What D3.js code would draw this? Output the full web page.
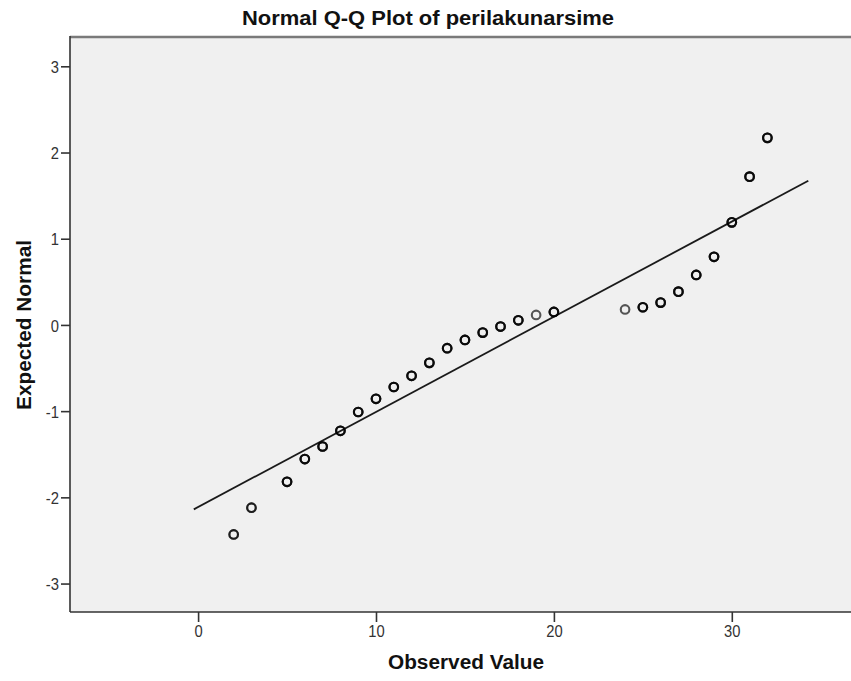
<!DOCTYPE html>
<html>
<head>
<meta charset="utf-8">
<script src="https://cdn.jsdelivr.net/npm/d3@7"></script>
<style>
  body { margin: 0; background: #fff; }
  text { font-family: "Liberation Sans", Arial, sans-serif; }
</style>
</head>
<body>
<svg id="chart" width="851" height="681"></svg>
<script>
// values
const observed = [2, 3, 5, 6, 7, 8, 9, 10, 11, 12, 13, 14, 15, 16, 17, 18, 19, 20, 24, 25, 26, 27, 28, 29, 30, 31, 32];
const expected = [-2.43, -2.12, -1.82, -1.556, -1.41, -1.228, -1.01, -0.857, -0.72, -0.59, -0.44, -0.27, -0.174, -0.089, -0.019, 0.054, 0.116, 0.151, 0.18, 0.205, 0.259, 0.386, 0.58, 0.79, 1.19, 1.72, 2.17];
const counts = [2, 2, 3, 3, 3, 3, 3, 3, 3, 3, 3, 3, 3, 3, 3, 3, 1, 3, 1, 3, 3, 3, 3, 3, 3, 3, 3];
const xTicks = [0, 10, 20, 30];
const yTicks = [-3, -2, -1, 0, 1, 2, 3];
const lineMean = 19.14;
const lineSd = 9.06;
const lineRange = [-0.24, 34.3];

const svg = d3.select("#chart");
const plotLeft = 70, plotRight = 851, plotTop = 37, plotBottom = 612;

const x = d3.scaleLinear().domain([-7.2, 36.7]).range([plotLeft, plotRight]);
const y = d3.scaleLinear().domain([-3.33, 3.34]).range([plotBottom, plotTop]);

svg.append("rect")
  .attr("x", plotLeft).attr("y", plotTop)
  .attr("width", plotRight - plotLeft).attr("height", plotBottom - plotTop)
  .attr("fill", "#f0f0f0");

// frame
svg.append("line")
  .attr("x1", plotLeft).attr("x2", plotRight).attr("y1", plotTop).attr("y2", plotTop)
  .attr("stroke", "#7a7a7a").attr("stroke-width", 2.5);
svg.append("line")
  .attr("x1", plotLeft).attr("x2", plotLeft).attr("y1", plotTop - 1).attr("y2", plotBottom)
  .attr("stroke", "#333").attr("stroke-width", 1.6);
svg.append("line")
  .attr("x1", plotLeft).attr("x2", plotRight).attr("y1", plotBottom).attr("y2", plotBottom)
  .attr("stroke", "#333").attr("stroke-width", 1.6);

const plain = d => String(d); // hyphen minus, no decimals
// narrow look of the SPSS tick font: squeeze glyphs to a fixed width
const narrowWidth = s => s.split("").reduce((w, c) => w + (c === "-" ? 5 : 8.2), 0);

const xAxis = svg.append("g")
  .attr("transform", `translate(0,${plotBottom})`)
  .call(d3.axisBottom(x).tickValues(xTicks).tickFormat(plain).tickSize(10).tickPadding(3));
const yAxis = svg.append("g")
  .attr("transform", `translate(${plotLeft},0)`)
  .call(d3.axisLeft(y).tickValues(yTicks).tickFormat(plain).tickSize(9).tickPadding(2));

[xAxis, yAxis].forEach(g => {
  g.select(".domain").remove();
  g.selectAll(".tick line").attr("stroke", "#333").attr("stroke-width", 1.6);
  g.selectAll(".tick text")
    .attr("fill", "#333")
    .attr("textLength", d => narrowWidth(plain(d)))
    .attr("lengthAdjust", "spacingAndGlyphs")
    .style("font-size", "17px")
    .style("font-family", "'Liberation Sans', Arial, sans-serif");
});
xAxis.selectAll(".tick text").attr("dy", "0.72em");
yAxis.selectAll(".tick text").attr("dy", "0.36em");

// reference line
svg.append("line")
  .attr("x1", x(lineRange[0]))
  .attr("y1", y((lineRange[0] - lineMean) / lineSd))
  .attr("x2", x(lineRange[1]))
  .attr("y2", y((lineRange[1] - lineMean) / lineSd))
  .attr("stroke", "#1a1a1a")
  .attr("stroke-width", 1.8);

// points, one ring per tied observation so ties look darker
const rings = [];
observed.forEach((v, i) => {
  for (let k = 0; k < counts[i]; k++) rings.push([v, expected[i]]);
});
svg.append("g")
  .selectAll("circle")
  .data(rings)
  .join("circle")
  .attr("cx", d => x(d[0]))
  .attr("cy", d => y(d[1]))
  .attr("r", 4.3)
  .attr("fill", "none")
  .attr("stroke", "rgba(0,0,0,0.65)")
  .attr("stroke-width", 2.1);

// titles
svg.append("text")
  .attr("x", 428).attr("y", 25)
  .attr("text-anchor", "middle")
  .attr("textLength", 372)
  .attr("lengthAdjust", "spacingAndGlyphs")
  .style("font-size", "20px")
  .style("font-weight", "bold")
  .attr("fill", "#111")
  .text("Normal Q-Q Plot of perilakunarsime");

svg.append("text")
  .attr("x", 466).attr("y", 669)
  .attr("text-anchor", "middle")
  .attr("textLength", 156)
  .attr("lengthAdjust", "spacingAndGlyphs")
  .style("font-size", "20px")
  .style("font-weight", "bold")
  .attr("fill", "#111")
  .text("Observed Value");

svg.append("text")
  .attr("transform", "translate(31,325) rotate(-90)")
  .attr("text-anchor", "middle")
  .attr("textLength", 170)
  .attr("lengthAdjust", "spacingAndGlyphs")
  .style("font-size", "20px")
  .style("font-weight", "bold")
  .attr("fill", "#111")
  .text("Expected Normal");
</script>
</body>
</html>
